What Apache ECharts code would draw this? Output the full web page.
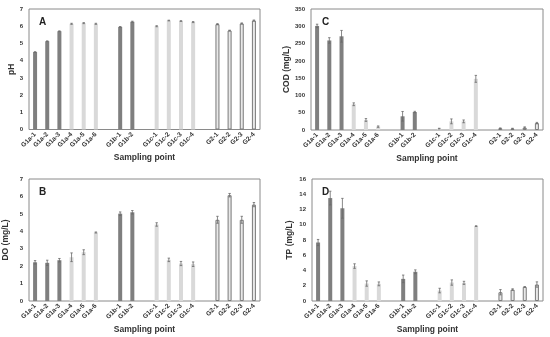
<!DOCTYPE html>
<html><head><meta charset="utf-8">
<script src="https://cdn.jsdelivr.net/npm/echarts@6/dist/echarts.min.js"></script>
<style>html,body{margin:0;padding:0;background:#fff}#c{width:550px;height:337px}</style>
</head><body><div id="c"></div>
<script>
const categories = ['G1a-1','G1a-2','G1a-3','G1a-4','G1a-5','G1a-6',' ','G1b-1','G1b-2','  ','G1c-1','G1c-2','G1c-3','G1c-4','   ','G2-1','G2-2','G2-3','G2-4'];
const barGroup = ['dark','dark','dark','light','light','light',null,'dark','dark',null,'light','light','light','light',null,'open','open','open','open'];

const pH     = [4.50,5.13,5.71,6.14,6.18,6.14,null,5.96,6.26,null,6.00,6.33,6.30,6.24,null,6.12,5.75,6.16,6.33];
const pHErr  = [0.02,0.02,0.02,0.03,0.03,0.03,null,0.02,0.03,null,0.03,0.02,0.02,0.03,null,0.03,0.02,0.03,0.03];
const DO     = [2.22,2.19,2.34,2.51,2.80,3.93,null,5.01,5.09,null,4.39,2.36,2.15,2.11,null,4.66,6.07,4.66,5.53];
const DOErr  = [0.10,0.15,0.10,0.25,0.14,0.03,null,0.10,0.10,null,0.10,0.10,0.12,0.13,null,0.20,0.10,0.20,0.12];
const COD    = [301,259,271,74.5,29,9.7,null,39.6,52,null,4,25,25,148,null,5,4,7,20];
const CODErr = [5,8,17,4,4,2,null,14,2,null,1,7,4,10,null,1,1,2,2];
const TP     = [7.67,13.5,12.16,4.58,2.29,2.25,null,2.90,3.83,null,1.37,2.42,2.38,9.82,null,1.15,1.50,1.85,2.16];
const TPErr  = [0.40,0.90,1.30,0.30,0.35,0.25,null,0.50,0.25,null,0.30,0.35,0.20,0.05,null,0.35,0.10,0.03,0.35];

const FONT = 'Liberation Sans, Arial, sans-serif';
const styles = {
  dark:  {color:'#7f7f7f'},
  light: {color:'#d9d9d9'},
  open:  {color:'#e8e8e8', borderColor:'#7a7a7a', borderWidth:1}
};

const panels = [
  {vals:pH,  errs:pHErr,  grid:{left:29, top:9,   width:231, height:120.5}, max:7,   interval:1,  name:'pH',         gap:13, letter:'A', lx:34,  ly:12},
  {vals:DO,  errs:DOErr,  grid:{left:29, top:179, width:231, height:122},   max:7,   interval:1,  name:'DO (mg/L)',  gap:19, letter:'B', lx:34,  ly:182},
  {vals:COD, errs:CODErr, grid:{left:311,top:9,   width:232, height:121},   max:350, interval:50, name:'COD (mg/L)', gap:17, letter:'C', lx:317, ly:12},
  {vals:TP,  errs:TPErr,  grid:{left:312,top:179, width:231, height:122},   max:16,  interval:2,  name:'TP (mg/L)',  gap:18, letter:'D', lx:317, ly:182}
];

const grid=[], xAxis=[], yAxis=[], series=[], title=[];
panels.forEach((p,k)=>{
  grid.push(Object.assign({show:true, borderColor:'#8a8a8a', borderWidth:1, backgroundColor:'#fff'}, p.grid));
  xAxis.push({type:'category', gridIndex:k, data:categories,
    axisLine:{show:false}, axisTick:{show:false},
    axisLabel:{interval:0, rotate:45, fontSize:6.5, fontWeight:'bold', color:'#333', fontFamily:FONT, margin:4},
    name:'Sampling point', nameLocation:'middle', nameGap:24,
    nameTextStyle:{fontSize:8.5, fontWeight:'bold', color:'#333', fontFamily:FONT}});
  yAxis.push({type:'value', gridIndex:k, min:0, max:p.max, interval:p.interval,
    axisLine:{show:false}, axisTick:{show:false}, splitLine:{show:false},
    axisLabel:{fontSize:6, fontWeight:'bold', color:'#333', fontFamily:FONT, margin:6},
    name:p.name, nameLocation:'middle', nameGap:p.gap,
    nameTextStyle:{fontSize:8.5, fontWeight:'bold', color:'#333', fontFamily:FONT}});
  series.push({type:'bar', xAxisIndex:k, yAxisIndex:k, barWidth:4,
    data:p.vals.map((v,i)=> v==null ? '-' : {value:v, itemStyle:styles[barGroup[i]]})});
  const eb=[];
  p.vals.forEach((v,i)=>{ if(v!=null) eb.push([i, v, p.errs[i]]); });
  series.push({type:'custom', xAxisIndex:k, yAxisIndex:k, data:eb, z:5,
    renderItem:(params, api)=>{
      const x=api.value(0), v=api.value(1), e=api.value(2);
      const t=api.coord([x, v+e]), b=api.coord([x, Math.max(0,v-e)]);
      const st={stroke:'#6a6a6a', lineWidth:0.8};
      return {type:'group', children:[
        {type:'line', shape:{x1:t[0],y1:t[1],x2:b[0],y2:b[1]}, style:st},
        {type:'line', shape:{x1:t[0]-1.2,y1:t[1],x2:t[0]+1.2,y2:t[1]}, style:st},
        {type:'line', shape:{x1:b[0]-1.2,y1:b[1],x2:b[0]+1.2,y2:b[1]}, style:st}
      ]};
    }});
  title.push({text:p.letter, left:p.lx, top:p.ly, textStyle:{fontSize:10, fontWeight:'bold', color:'#222', fontFamily:FONT}});
});

const chart = echarts.init(document.getElementById('c'), null, {renderer:'canvas'});
chart.setOption({animation:false, backgroundColor:'#fff', title, grid, xAxis, yAxis, series});
</script></body></html>
